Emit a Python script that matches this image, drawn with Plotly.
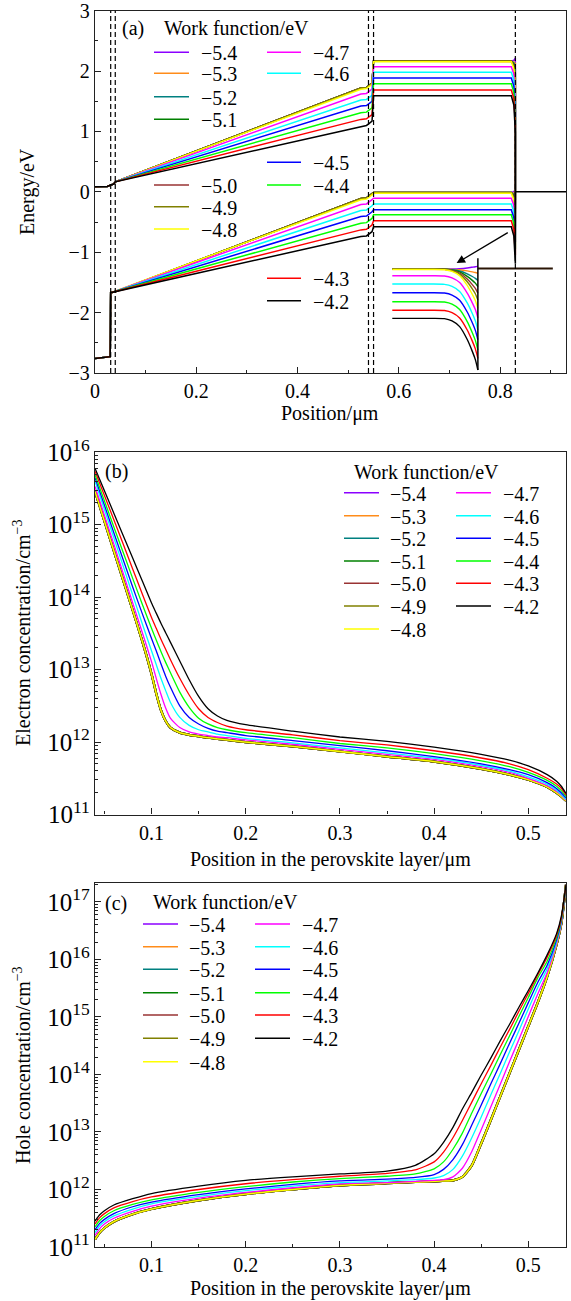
import plotly.graph_objects as go

# ---------------- common series info ----------------
wf = [-5.4, -5.3, -5.2, -5.1, -5.0, -4.9, -4.8, -4.7, -4.6, -4.5, -4.4, -4.3, -4.2]
wf_labels = ["\u2212%.1f" % abs(w) for w in wf]
colors = ['#8b00ff', '#ff8c1a', '#008080', '#008000', '#993333', '#808000', '#ffff00',
          '#ff00ff', '#00ffff', '#0000ff', '#00ff00', '#ff0000', '#000000']

# ---------------- panel (a): energy bands (eV) ----------------
cb_x_common = [0.0, 0.024, 0.030, 0.037, 0.040]
cb_y_common = [0.085, 0.088, 0.11, 0.13, 0.165]
vb_x_common = [0.0, 0.030, 0.031, 0.040]
vb_y_common = [-2.76, -2.73, -1.67, -1.655]
band_x = [0.525, 0.536, 0.541, 0.547, 0.550, 0.822, 0.827, 0.830]

cb_525 = [1.72, 1.72, 1.72, 1.72, 1.72, 1.72, 1.70, 1.62, 1.52, 1.42, 1.31, 1.20, 1.09]
cb_536 = [1.73, 1.73, 1.73, 1.73, 1.73, 1.73, 1.71, 1.63, 1.53, 1.43, 1.32, 1.21, 1.10]
cb_541 = [1.76, 1.76, 1.76, 1.76, 1.76, 1.76, 1.74, 1.66, 1.56, 1.46, 1.35, 1.24, 1.13]
cb_547 = [1.80, 1.80, 1.80, 1.80, 1.80, 1.80, 1.78, 1.70, 1.60, 1.50, 1.39, 1.28, 1.17]
cb_htl = [2.165, 2.165, 2.165, 2.165, 2.165, 2.165, 2.155, 2.07, 1.98, 1.885, 1.79, 1.685, 1.59]
cb_827 = [2.178, 2.155, 2.134, 2.115, 2.096, 2.078, 2.045, 1.951, 1.849, 1.75, 1.649, 1.545, 1.439]
cb_contact = [2.215, 2.125, 2.04, 1.965, 1.89, 1.815, 1.715, 1.595, 1.455, 1.345, 1.225, 1.125, 0.985]

vb_525 = [-0.11, -0.11, -0.11, -0.11, -0.11, -0.11, -0.13, -0.21, -0.31, -0.41, -0.52, -0.63, -0.74]
vb_536 = [-0.10, -0.10, -0.10, -0.10, -0.10, -0.10, -0.12, -0.20, -0.30, -0.40, -0.51, -0.62, -0.73]
vb_541 = [-0.07, -0.07, -0.07, -0.07, -0.07, -0.07, -0.09, -0.17, -0.27, -0.37, -0.48, -0.59, -0.70]
vb_547 = [-0.03, -0.03, -0.03, -0.03, -0.03, -0.03, -0.05, -0.13, -0.23, -0.33, -0.44, -0.55, -0.66]
vb_htl = [-0.01, -0.01, -0.01, -0.01, -0.01, -0.01, -0.025, -0.105, -0.20, -0.295, -0.38, -0.48, -0.58]
vb_827 = [0.003, -0.02, -0.041, -0.06, -0.079, -0.098, -0.134, -0.224, -0.33, -0.429, -0.523, -0.623, -0.733]
vb_contact = [0.04, -0.05, -0.135, -0.21, -0.285, -0.36, -0.46, -0.58, -0.72, -0.83, -0.95, -1.05, -1.19]

interfaces = [0.031, 0.040, 0.540, 0.550, 0.830]
metal_x = [0.830, 0.93]
metal_level = [0.0, 0.0]

# inset (magnified valence band near the metal contact), drawn in panel-(a) coordinates
inset_x = [0.587, 0.66, 0.69, 0.705, 0.72, 0.735, 0.745, 0.751, 0.756]
inset_vb = [
    [-1.28, -1.28, -1.28, -1.278, -1.272, -1.26, -1.248, -1.24, -1.23],
    [-1.28, -1.28, -1.28, -1.284, -1.291, -1.309, -1.325, -1.336, -1.35],
    [-1.28, -1.28, -1.281, -1.29, -1.31, -1.358, -1.402, -1.432, -1.47],
    [-1.28, -1.28, -1.282, -1.295, -1.326, -1.399, -1.466, -1.512, -1.57],
    [-1.28, -1.28, -1.282, -1.30, -1.344, -1.444, -1.536, -1.60, -1.68],
    [-1.28, -1.28, -1.283, -1.306, -1.362, -1.489, -1.606, -1.688, -1.79],
    [-1.285, -1.285, -1.289, -1.317, -1.388, -1.549, -1.698, -1.801, -1.93],
    [-1.39, -1.39, -1.394, -1.425, -1.502, -1.677, -1.838, -1.95, -2.09],
    [-1.527, -1.527, -1.532, -1.565, -1.649, -1.84, -2.015, -2.137, -2.29],
    [-1.67, -1.67, -1.675, -1.709, -1.795, -1.99, -2.169, -2.294, -2.45],
    [-1.82, -1.82, -1.825, -1.86, -1.948, -2.148, -2.332, -2.46, -2.62],
    [-1.96, -1.96, -1.965, -2.0, -2.088, -2.288, -2.472, -2.60, -2.76],
    [-2.095, -2.095, -2.10, -2.138, -2.232, -2.446, -2.642, -2.779, -2.95],
]
inset_metal_x = [0.756, 0.904]
inset_metal_level = [-1.27, -1.27]
inset_contact_x = [0.756, 0.756]
inset_contact_y = [-1.10, -2.95]
arrow_tail = [0.818, -0.66]
arrow_head = [0.714, -1.18]

# ---------------- panel (b): electron concentration, log10(cm^-3) ----------------
xb = [0.04, 0.06, 0.08, 0.09, 0.10, 0.105, 0.11, 0.115, 0.12, 0.13, 0.14, 0.15, 0.16, 0.17,
      0.18, 0.20, 0.25, 0.30, 0.35, 0.40, 0.45, 0.48, 0.50, 0.52, 0.53, 0.535, 0.54]
n_m48 = [15.46, 14.64, 13.82, 13.40, 12.94, 12.67, 12.44, 12.29, 12.20, 12.13, 12.10, 12.08, 12.06, 12.045,
         12.03, 12.00, 11.94, 11.87, 11.80, 11.73, 11.63, 11.55, 11.48, 11.38, 11.30, 11.25, 11.19]
n_m47 = [15.53, 14.73, 13.92, 13.52, 13.11, 12.88, 12.66, 12.47, 12.33, 12.20, 12.14, 12.11, 12.09, 12.07,
         12.06, 12.03, 11.97, 11.90, 11.83, 11.76, 11.66, 11.58, 11.50, 11.40, 11.32, 11.27, 11.20]
n_m46 = [15.60, 14.82, 14.03, 13.64, 13.26, 13.07, 12.88, 12.71, 12.55, 12.34, 12.23, 12.17, 12.14, 12.11,
         12.09, 12.05, 11.99, 11.92, 11.85, 11.78, 11.68, 11.60, 11.52, 11.42, 11.34, 11.28, 11.21]
n_m45 = [15.65, 14.89, 14.14, 13.78, 13.43, 13.26, 13.08, 12.91, 12.76, 12.50, 12.34, 12.25, 12.19, 12.15,
         12.13, 12.09, 12.02, 11.95, 11.88, 11.80, 11.70, 11.62, 11.55, 11.44, 11.36, 11.30, 11.23]
n_m44 = [15.69, 14.97, 14.26, 13.91, 13.57, 13.41, 13.25, 13.10, 12.96, 12.69, 12.48, 12.33, 12.25, 12.20,
         12.17, 12.13, 12.06, 11.98, 11.92, 11.84, 11.74, 11.66, 11.58, 11.47, 11.39, 11.33, 11.25]
n_m43 = [15.74, 15.07, 14.39, 14.05, 13.72, 13.57, 13.42, 13.28, 13.14, 12.88, 12.65, 12.46, 12.34, 12.27,
         12.22, 12.17, 12.10, 12.02, 11.96, 11.88, 11.78, 11.70, 11.62, 11.50, 11.42, 11.36, 11.27]
n_m42 = [15.78, 15.16, 14.54, 14.23, 13.92, 13.78, 13.64, 13.51, 13.38, 13.12, 12.86, 12.63, 12.46, 12.36,
         12.30, 12.24, 12.15, 12.07, 12.01, 11.93, 11.83, 11.75, 11.67, 11.55, 11.46, 11.39, 11.29]
# -5.4 ... -4.9 coincide with -4.8 within the line width
electron_log = [n_m48, n_m48, n_m48, n_m48, n_m48, n_m48, n_m48, n_m47, n_m46, n_m45, n_m44, n_m43, n_m42]

# ---------------- panel (c): hole concentration, log10(cm^-3) ----------------
xc = [0.04, 0.045, 0.05, 0.06, 0.08, 0.10, 0.15, 0.20, 0.25, 0.30, 0.35, 0.38, 0.40, 0.41,
      0.42, 0.43, 0.44, 0.45, 0.46, 0.47, 0.48, 0.49, 0.50, 0.51, 0.52, 0.53, 0.535, 0.54]
p_m48 = [11.13, 11.25, 11.33, 11.44, 11.57, 11.66, 11.81, 11.92, 12.00, 12.07, 12.11, 12.13, 12.14, 12.15,
         12.16, 12.22, 12.42, 12.80, 13.20, 13.61, 14.02, 14.43, 14.84, 15.25, 15.70, 16.26, 16.62, 17.30]
p_m47 = [11.20, 11.32, 11.40, 11.50, 11.62, 11.71, 11.85, 11.95, 12.03, 12.10, 12.12, 12.14, 12.16, 12.17,
         12.22, 12.37, 12.66, 13.04, 13.43, 13.82, 14.22, 14.61, 15.01, 15.40, 15.77, 16.28, 16.63, 17.30]
p_m46 = [11.25, 11.37, 11.44, 11.54, 11.66, 11.75, 11.88, 11.98, 12.06, 12.12, 12.15, 12.17, 12.20, 12.24,
         12.35, 12.58, 12.90, 13.26, 13.64, 14.01, 14.39, 14.76, 15.14, 15.51, 15.84, 16.31, 16.65, 17.30]
p_m45 = [11.30, 11.41, 11.48, 11.58, 11.70, 11.78, 11.91, 12.01, 12.09, 12.15, 12.18, 12.21, 12.26, 12.35,
         12.52, 12.78, 13.12, 13.47, 13.83, 14.18, 14.54, 14.89, 15.25, 15.60, 15.90, 16.34, 16.67, 17.30]
p_m44 = [11.35, 11.46, 11.53, 11.63, 11.74, 11.82, 11.95, 12.05, 12.13, 12.19, 12.23, 12.27, 12.36, 12.48,
         12.70, 12.98, 13.33, 13.67, 14.00, 14.34, 14.67, 15.01, 15.34, 15.68, 15.97, 16.38, 16.70, 17.30]
p_m43 = [11.40, 11.51, 11.58, 11.68, 11.79, 11.87, 12.00, 12.10, 12.17, 12.23, 12.28, 12.34, 12.48, 12.65,
         12.90, 13.20, 13.52, 13.84, 14.15, 14.47, 14.78, 15.10, 15.41, 15.73, 16.04, 16.42, 16.72, 17.30]
p_m42 = [11.45, 11.56, 11.63, 11.73, 11.84, 11.93, 12.06, 12.16, 12.22, 12.27, 12.32, 12.42, 12.62, 12.82,
         13.08, 13.40, 13.69, 13.99, 14.28, 14.58, 14.87, 15.17, 15.46, 15.76, 16.08, 16.45, 16.75, 17.30]
hole_log = [p_m48, p_m48, p_m48, p_m48, p_m48, p_m48, p_m48, p_m47, p_m46, p_m45, p_m44, p_m43, p_m42]

# ---------------- figure ----------------
W, H = 571, 1301
FONT = "Liberation Serif"
FS = 20
TFS = 20


def px(x):
    return x / W


def py(y):
    return 1 - y / H


fig = go.Figure()

# panel (a) bands: conduction band forward, valence band back
for i in range(len(wf)):
    cb = cb_y_common + [cb_525[i], cb_536[i], cb_541[i], cb_547[i], cb_htl[i], cb_htl[i], cb_827[i], cb_contact[i]]
    vb = vb_y_common + [vb_525[i], vb_536[i], vb_541[i], vb_547[i], vb_htl[i], vb_htl[i], vb_827[i], vb_contact[i]]
    vbx = vb_x_common + band_x
    xs = cb_x_common + band_x + vbx[::-1]
    ys = cb + vb[::-1]
    fig.add_trace(go.Scatter(x=xs, y=ys, mode='lines', line=dict(color=colors[i], width=1.5),
                             showlegend=False, xaxis='x', yaxis='y', hoverinfo='skip'))

fig.add_trace(go.Scatter(x=metal_x, y=metal_level, mode='lines', line=dict(color='black', width=1.5),
                         showlegend=False, xaxis='x', yaxis='y'))

# inset
for i in range(len(wf)):
    fig.add_trace(go.Scatter(x=inset_x, y=inset_vb[i], mode='lines',
                             line=dict(color=colors[i], width=1.4, shape='spline', smoothing=0.7),
                             showlegend=False, xaxis='x', yaxis='y'))
fig.add_trace(go.Scatter(x=inset_metal_x, y=inset_metal_level, mode='lines',
                         line=dict(color='#2a1505', width=2), showlegend=False, xaxis='x', yaxis='y'))
fig.add_trace(go.Scatter(x=inset_contact_x, y=inset_contact_y, mode='lines',
                         line=dict(color='black', width=1.5), showlegend=False, xaxis='x', yaxis='y'))

# panel (b) & (c)
for i in range(len(wf)):
    hidden = i < 6
    lw = 2.2 if hidden else 1.3
    fig.add_trace(go.Scatter(x=xb, y=[10 ** v for v in electron_log[i]], mode='lines',
                             line=dict(color=colors[i], width=lw, shape='spline', smoothing=0.6),
                             showlegend=False, xaxis='x2', yaxis='y2'))
    fig.add_trace(go.Scatter(x=xc, y=[10 ** v for v in hole_log[i]], mode='lines',
                             line=dict(color=colors[i], width=lw, shape='spline', smoothing=0.6),
                             showlegend=False, xaxis='x3', yaxis='y3'))

# dashed interface lines in (a)
for xv in interfaces:
    fig.add_shape(type='line', xref='x', yref='y domain', x0=xv, x1=xv, y0=0, y1=1,
                  line=dict(color='black', width=1.2, dash='5px,3px'))

fig.add_annotation(x=arrow_head[0], y=arrow_head[1], ax=arrow_tail[0], ay=arrow_tail[1],
                   xref='x', yref='y', axref='x', ayref='y', showarrow=True,
                   arrowhead=2, arrowsize=1.3, arrowwidth=1.3, arrowcolor='black', text='')

tick_font = dict(family=FONT, size=TFS, color='black')
xdom = [px(95), px(566)]
common_axis = dict(showline=True, linecolor='#222', linewidth=1.3, mirror=True, ticks='inside',
                   tickcolor='#222', tickfont=tick_font, showgrid=False, zeroline=False,
                   automargin=False, ticklabeloverflow='allow')

fig.update_layout(
    width=W, height=H, margin=dict(l=0, r=0, t=0, b=0, autoexpand=False),
    paper_bgcolor='white', plot_bgcolor='white', showlegend=False,
    xaxis=dict(domain=xdom, anchor='y', range=[0, 0.93], dtick=0.2, tick0=0, ticklen=6,
               minor=dict(dtick=0.1, ticks='inside', ticklen=3, tickcolor='#222'), **common_axis),
    yaxis=dict(domain=[py(373), py(10.7)], anchor='x', range=[-3, 3], dtick=1, ticklen=6,
               minor=dict(dtick=0.5, ticks='inside', ticklen=3, tickcolor='#222'), **common_axis),
    xaxis2=dict(domain=xdom, anchor='y2', range=[0.04, 0.54], dtick=0.1, tick0=0, ticklen=6,
                minor=dict(dtick=0.05, ticks='inside', ticklen=3, tickcolor='#222'), **common_axis),
    yaxis2=dict(domain=[py(814.5), py(452.3)], anchor='x2', type='log', range=[11, 16], dtick=1,
                exponentformat='power', ticklen=6,
                minor=dict(ticks='inside', ticklen=3, tickcolor='#222'), **common_axis),
    xaxis3=dict(domain=xdom, anchor='y3', range=[0.04, 0.54], dtick=0.1, tick0=0, ticklen=6,
                minor=dict(dtick=0.05, ticks='inside', ticklen=3, tickcolor='#222'), **common_axis),
    yaxis3=dict(domain=[py(1247), py(883)], anchor='x3', type='log', range=[11, 17.33], dtick=1,
                exponentformat='power', ticklen=6,
                minor=dict(ticks='inside', ticklen=3, tickcolor='#222'), **common_axis),
)

txt_font = dict(family=FONT, size=FS, color='black')


def text(x, y, s, anchor='left', angle=0):
    fig.add_annotation(xref='paper', yref='paper', x=px(x), y=py(y), text=s, showarrow=False,
                       xanchor=anchor, yanchor='middle', textangle=angle, font=txt_font, borderpad=0)


def entry(x0, x1, xt, y, i):
    fig.add_shape(type='line', xref='paper', yref='paper', x0=px(x0), x1=px(x1), y0=py(y), y1=py(y),
                  line=dict(color=colors[i], width=1.6))
    text(xt, y + 1, wf_labels[i])


# axis titles
text(330, 413, "Position/\u03bcm", 'center')
text(27, 192, "Energy/eV", 'center', -90)
text(330, 859, "Position in the perovskite layer/\u03bcm", 'center')
text(22, 633, "Electron concentration/cm<sup>\u22123</sup>", 'center', -90)
text(330, 1288, "Position in the perovskite layer/\u03bcm", 'center')
text(22, 1065, "Hole concentration/cm<sup>\u22123</sup>", 'center', -90)

# legend (a)
text(121, 28, "(a)")
text(163, 28, "Work function/eV")
rows_a = {0: (1, 52.3), 1: (1, 73.3), 2: (1, 96.7), 3: (1, 119.3), 4: (1, 185), 5: (1, 206.7), 6: (1, 229),
          7: (2, 52.3), 8: (2, 73.3), 9: (2, 162.3), 10: (2, 185), 11: (2, 278.3), 12: (2, 300.7)}
for i, (c, y) in rows_a.items():
    if c == 1:
        entry(154, 189, 200, y, i)
    else:
        entry(267, 301, 312, y, i)

# legend (b)
text(104, 471.5, "(b)")
text(353, 472, "Work function/eV")
rows_b = [492.7, 515.7, 538.3, 561, 583.3, 606, 629]
for i in range(13):
    if i < 7:
        entry(344, 379, 389, rows_b[i], i)
    else:
        entry(456, 491, 502, rows_b[i - 7], i)

# legend (c)
text(104, 903, "(c)")
text(152, 902, "Work function/eV")
rows_c = [924, 946.7, 969.3, 992.7, 1015, 1038.3, 1061.7]
for i in range(13):
    if i < 7:
        entry(143, 178, 188, rows_c[i], i)
    else:
        entry(255, 290, 301, rows_c[i - 7], i)

fig.write_html("out.html", config={'displayModeBar': False},
               post_script="document.body.style.margin='0';document.body.style.overflow='hidden';")
